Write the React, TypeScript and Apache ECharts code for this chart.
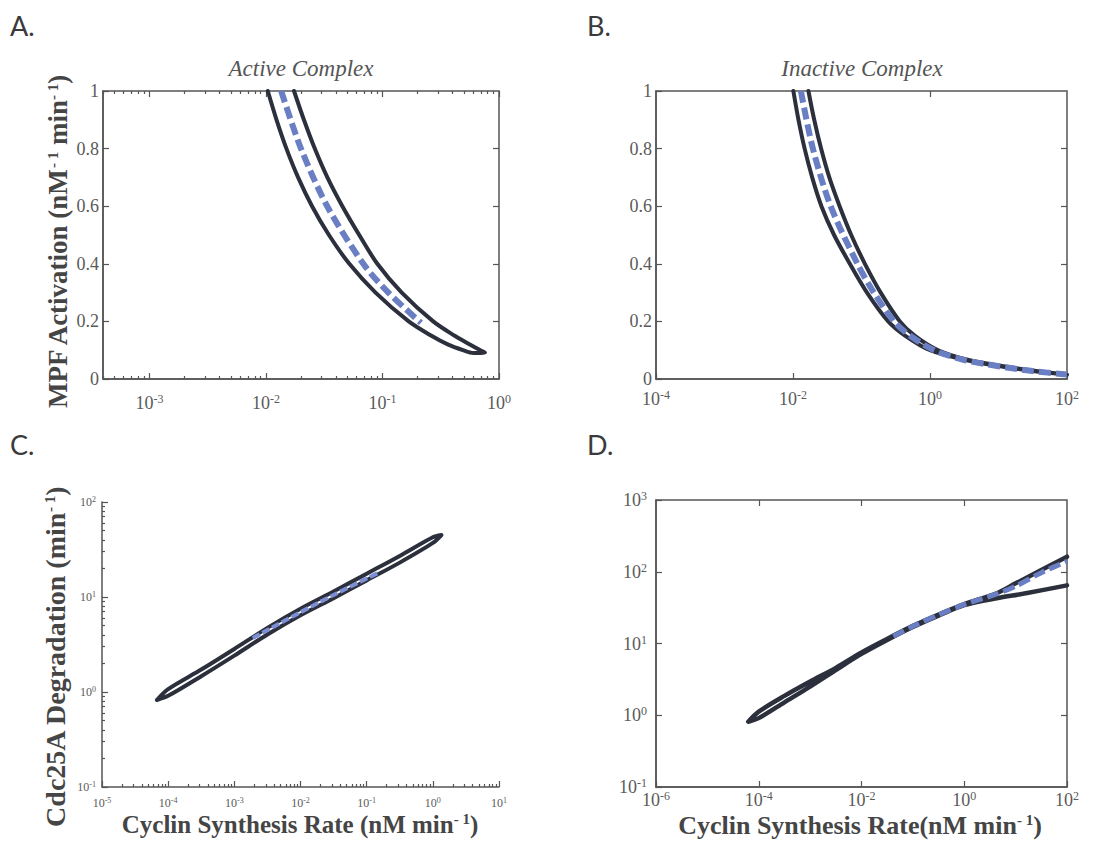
import React, { useEffect, useRef } from "react";
import * as echarts from "echarts";

// ---------- Data ----------
// Panel A: Active Complex — closed loop [cyclin synthesis rate, MPF activation]
const activeLoop: [number, number][] = [
  [0.01035, 1.0], [0.0123, 0.9], [0.01496, 0.8], [0.01884, 0.7], [0.02483, 0.6],
  [0.03467, 0.5], [0.05188, 0.4], [0.0871, 0.3], [0.1679, 0.2], [0.263, 0.15],
  [0.3631, 0.12], [0.4898, 0.1], [0.6026, 0.09], [0.7586, 0.092],
  [0.6918, 0.1], [0.5623, 0.12], [0.4169, 0.15], [0.2723, 0.2], [0.1462, 0.3],
  [0.0902, 0.4], [0.0631, 0.5], [0.0452, 0.6], [0.0336, 0.7], [0.0262, 0.8],
  [0.02113, 0.9], [0.01738, 1.0],
];
const activeDashed: [number, number][] = [
  [0.01349, 1.0], [0.01995, 0.8], [0.0335, 0.6], [0.0684, 0.4], [0.1122, 0.3], [0.2138, 0.195],
];

// Panel B: Inactive Complex
const inactiveLoop: [number, number][] = [
  [0.01012, 1.0], [0.01202, 0.9], [0.01479, 0.8], [0.01905, 0.7], [0.026, 0.6],
  [0.0398, 0.5], [0.0676, 0.4], [0.1202, 0.3], [0.2455, 0.2], [0.4365, 0.15],
  [1.0, 0.1], [3.162, 0.067], [10, 0.045], [31.62, 0.028], [100, 0.015],
  [100, 0.017], [35.48, 0.028], [11.22, 0.045], [3.548, 0.067], [1.318, 0.1],
  [0.6026, 0.15], [0.3631, 0.2], [0.1905, 0.3], [0.1122, 0.4], [0.0708, 0.5],
  [0.0479, 0.6], [0.0339, 0.7], [0.0257, 0.8], [0.0204, 0.9], [0.01679, 1.0],
];
const inactiveDashed: [number, number][] = [
  [0.01303, 1.0], [0.0195, 0.8], [0.0355, 0.6], [0.0871, 0.4], [0.1514, 0.3], [0.2985, 0.2],
  [0.5129, 0.15], [1.148, 0.1], [3.162, 0.066], [10, 0.0445], [31.6, 0.0275], [100, 0.016],
];

// Panel C: Cdc25A degradation vs cyclin synthesis rate
const cdcLoop: [number, number][] = [
  [6.76e-5, 0.824], [1e-4, 1.072], [3.16e-4, 1.722], [1e-3, 2.838], [3.16e-3, 4.732],
  [0.01, 7.534], [0.0316, 11.43], [0.1, 17.58], [0.316, 27.04], [1.0, 42.56], [1.35, 44.9],
  [1.0, 37.07], [0.316, 23.01], [0.1, 14.96], [0.0316, 9.72], [0.01, 6.412],
  [3.16e-3, 4.027], [1e-3, 2.415], [3.16e-4, 1.466], [1e-4, 0.912], [6.76e-5, 0.824],
];
const cdcDashed: [number, number][] = [
  [1.9e-3, 3.7], [0.01, 6.92], [0.0316, 10.5], [0.158, 18.3],
];

// Panel D
const dCurve: [number, number][] = [
  [100, 162], [31.6, 105.7], [10, 68.9], [4.27, 50.1], [1, 35.5], [0.316, 25.4],
  [0.1, 17.6], [0.0316, 11.6], [0.01, 7.5], [3.16e-3, 4.571], [1e-3, 2.951],
  [3.16e-4, 1.862], [1e-4, 1.122], [6.25e-5, 0.813],
  [1e-4, 0.912], [3.16e-4, 1.514], [1e-3, 2.512], [3.16e-3, 4.266], [0.01, 7.16],
  [0.0316, 11.2], [0.1, 17.0], [0.316, 24.5], [1, 34.3], [4.27, 42.7], [15.8, 50.1], [100, 64.6],
];
const dDashed: [number, number][] = [
  [0.0417, 12.6], [0.1, 17.4], [0.316, 25.1], [1, 35.1], [4.27, 49.0], [10, 63], [31.6, 97], [100, 140],
];

// Tick values (exponents of 10 for log axes)
const aXTicks = [-3, -2, -1, 0];
const bXTicks = [-4, -2, 0, 2];
const cXTicks = [-5, -4, -3, -2, -1, 0, 1];
const cYTicks = [-1, 0, 1, 2];
const dXTicks = [-6, -4, -2, 0, 2];
const dYTicks = [-1, 0, 1, 2, 3];
const linTicks = [0, 0.2, 0.4, 0.6, 0.8, 1];

const panelTitles = ["Active Complex", "Inactive Complex"];
const panelLetters = ["A.", "B.", "C.", "D."];

// ---------- Styling ----------
const SERIF = "Liberation Serif";
const AXIS_C = "#555";
const LABEL_C = "#5a5a5a";
const CURVE_C = "#2c303c";
const BLUE_C = "#6a7ec4";

const logX = (d: [number, number][]) => d.map(([x, y]) => [Math.log10(x), y]);
const logXY = (d: [number, number][]) => d.map(([x, y]) => [Math.log10(x), Math.log10(y)]);

function minorLogs(lo: number, hi: number) {
  const out: number[] = [];
  for (let k = Math.floor(lo); k < Math.ceil(hi); k++) {
    for (let m = 2; m <= 9; m++) {
      const v = k + Math.log10(m);
      if (v > lo && v < hi) out.push(v);
    }
  }
  return out;
}

const decadeFmt = (v: number) => `{b|10}{s|${Math.round(v)}}`;
const richNum = (fs: number, sfs: number, pad: number) => ({
  b: { fontSize: fs, fontFamily: SERIF, color: LABEL_C },
  s: { fontSize: sfs, fontFamily: SERIF, color: LABEL_C, padding: [0, 0, pad, 0] },
});

function axis(opts: {
  grid: number; min: number; max: number; position: string; values: number[];
  line?: boolean; tickLen?: number; label?: any;
}) {
  return {
    type: "value",
    gridIndex: opts.grid,
    min: opts.min,
    max: opts.max,
    position: opts.position,
    axisLine: { show: opts.line ?? false, onZero: false, lineStyle: { color: AXIS_C, width: 1.5 } },
    axisTick: {
      show: true, inside: true, length: opts.tickLen ?? 6, customValues: opts.values,
      lineStyle: { color: AXIS_C, width: 1.2 },
    },
    axisLabel: opts.label
      ? { show: true, customValues: opts.values, fontFamily: SERIF, color: LABEL_C, ...opts.label }
      : { show: false },
    splitLine: { show: false },
    minorTick: { show: false },
  };
}

function line(xi: number, yi: number, data: any[], dashed: boolean, width: number, color: string, dash = [12, 5]) {
  return {
    type: "line",
    xAxisIndex: xi,
    yAxisIndex: yi,
    data,
    showSymbol: false,
    symbol: "none",
    smooth: 0.3,
    silent: true,
    lineStyle: {
      color, width,
      type: dashed ? dash : "solid",
      cap: dashed ? "butt" : "round",
      join: "round",
    },
  };
}

export default function App() {
  const ref = useRef<HTMLDivElement>(null);

  useEffect(() => {
    if (!ref.current) return;
    const chart = echarts.init(ref.current, undefined, { renderer: "svg" });

    const xLab = (margin: number, fs = 18, sfs = 12, pad = 8) => ({
      formatter: decadeFmt, margin, fontSize: fs, rich: richNum(fs, sfs, pad),
    });
    const yLin = {
      margin: 4, fontSize: 18,
      formatter: (v: number) => (v === 0 ? "0" : v === 1 ? "1" : v.toFixed(1)),
    };

    const titleRich = (fs: number) => ({
      m: { fontSize: fs, fontWeight: "bold", fontFamily: SERIF, fill: "#454545" },
      s: { fontSize: 15, fontWeight: "bold", fontFamily: SERIF, fill: "#454545", padding: [0, 0, 10, 0] },
    });
    const axisTitle = (x: number, y: number, text: string, rotate: boolean, fs: number) => ({
      type: "text", x, y, rotation: rotate ? Math.PI / 2 : 0, silent: true,
      style: { text, rich: titleRich(fs), align: "center", verticalAlign: "middle", fill: "#454545" },
    });
    const letter = (x: number, y: number, t: string) => ({
      type: "text", x, y, silent: true,
      style: { text: t, fontFamily: "Lato", fontSize: 27, fill: "#3a3a3a", verticalAlign: "middle" },
    });
    const title = (x: number, t: string) => ({
      type: "text", x, y: 68, silent: true,
      style: {
        text: t, fontFamily: SERIF, fontStyle: "italic", fontSize: 23, fill: "#555",
        align: "center", verticalAlign: "middle",
      },
    });

    const boxGrid = { show: true, borderColor: AXIS_C, borderWidth: 1.5, backgroundColor: "transparent" };

    const option: any = {
      animation: false,
      backgroundColor: "#ffffff",
      textStyle: { fontFamily: SERIF },
      grid: [
        { left: 103, top: 91, width: 396, height: 288, ...boxGrid },
        { left: 656, top: 91, width: 411, height: 288, ...boxGrid },
        { left: 102, top: 502, width: 397, height: 285, show: false },
        { left: 656, top: 500, width: 411, height: 287, ...boxGrid },
      ],
      xAxis: [
        axis({ grid: 0, min: -3.4, max: 0, position: "bottom", values: aXTicks, line: true, label: xLab(14) }),
        axis({ grid: 0, min: -3.4, max: 0, position: "bottom", values: minorLogs(-3.4, 0), tickLen: 3 }),
        axis({ grid: 0, min: -3.4, max: 0, position: "top", values: aXTicks }),
        axis({ grid: 0, min: -3.4, max: 0, position: "top", values: minorLogs(-3.4, 0), tickLen: 3 }),
        axis({ grid: 1, min: -4, max: 2, position: "bottom", values: bXTicks, line: true, label: xLab(10) }),
        axis({ grid: 1, min: -4, max: 2, position: "top", values: [-2, 0] }),
        axis({ grid: 2, min: -5, max: 1, position: "bottom", values: cXTicks, line: true, label: xLab(9, 12, 8, 6) }),
        axis({ grid: 2, min: -5, max: 1, position: "bottom", values: minorLogs(-5, 1), tickLen: 3 }),
        axis({ grid: 3, min: -6, max: 2, position: "bottom", values: dXTicks, line: true, label: xLab(3) }),
        axis({ grid: 3, min: -6, max: 2, position: "top", values: [-4, -2, 0] }),
      ],
      yAxis: [
        axis({ grid: 0, min: 0, max: 1, position: "left", values: linTicks, line: true, label: yLin }),
        axis({ grid: 0, min: 0, max: 1, position: "right", values: [0.2, 0.4, 0.6, 0.8] }),
        axis({ grid: 1, min: 0, max: 1, position: "left", values: linTicks, line: true, label: yLin }),
        axis({ grid: 1, min: 0, max: 1, position: "right", values: [0.2, 0.4, 0.6, 0.8] }),
        axis({ grid: 2, min: -1, max: 2, position: "left", values: cYTicks, line: true, label: xLab(6, 12, 8, 6) }),
        axis({ grid: 2, min: -1, max: 2, position: "left", values: minorLogs(-1, 2), tickLen: 3 }),
        axis({ grid: 3, min: -1, max: 3, position: "left", values: dYTicks, line: true, label: xLab(9) }),
        axis({ grid: 3, min: -1, max: 3, position: "right", values: [0, 1, 2] }),
      ],
      series: [
        line(0, 0, logX(activeLoop), false, 4, CURVE_C),
        line(0, 0, logX(activeDashed), true, 6, BLUE_C),
        line(4, 2, logX(inactiveLoop), false, 4, CURVE_C),
        line(4, 2, logX(inactiveDashed), true, 6, BLUE_C),
        line(6, 4, logXY(cdcLoop), false, 4, CURVE_C),
        line(6, 4, logXY(cdcDashed), true, 4, "#7b8ed6", [8, 3]),
        line(8, 6, logXY(dCurve), false, 4.5, CURVE_C),
        line(8, 6, logXY(dDashed), true, 5, BLUE_C),
      ],
      graphic: [
        letter(10, 25, panelLetters[0]),
        letter(587, 25, panelLetters[1]),
        letter(10, 444, panelLetters[2]),
        letter(587, 444, panelLetters[3]),
        title(301, panelTitles[0]),
        title(862, panelTitles[1]),
        axisTitle(58, 242, "{m|MPF Activation (nM}{s|- 1}{m| min}{s|- 1}{m|)}", true, 27),
        axisTitle(55, 657, "{m|Cdc25A Degradation (min}{s|- 1}{m|)}", true, 28),
        axisTitle(300, 824, "{m|Cyclin Synthesis Rate (nM min}{s|- 1}{m|)}", false, 25),
        axisTitle(860, 825, "{m|Cyclin Synthesis Rate(nM min}{s|- 1}{m|)}", false, 26),
      ],
    };

    chart.setOption(option);
    return () => chart.dispose();
  }, []);

  return (
    <div
      ref={ref}
      style={{ position: "absolute", left: 0, top: 0, width: 1104, height: 848, background: "#fff" }}
    />
  );
}
